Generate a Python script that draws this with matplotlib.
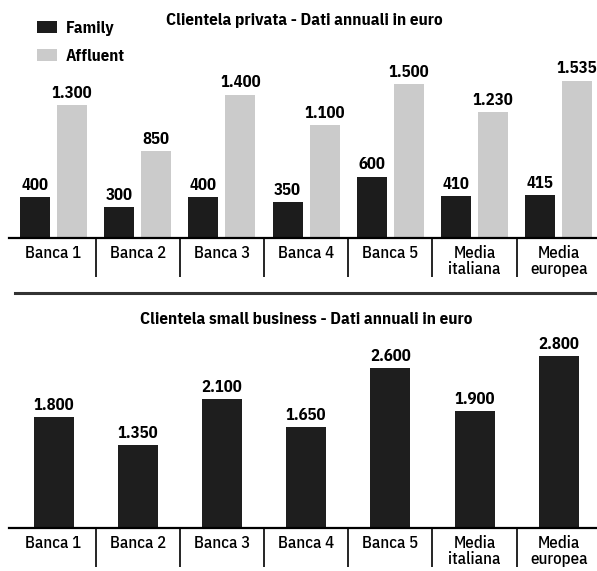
import matplotlib
matplotlib.use("Agg")
import matplotlib.pyplot as plt
from matplotlib.lines import Line2D
import numpy as np

plt.rcParams['font.family'] = ['IBM Plex Sans Condensed', 'DejaVu Sans']

categorie = ["Banca 1", "Banca 2", "Banca 3", "Banca 4", "Banca 5", "Media\nitaliana", "Media\neuropea"]
family = [400, 300, 400, 350, 600, 410, 415]
affluent = [1300, 850, 1400, 1100, 1500, 1230, 1535]
small_business = [1800, 1350, 2100, 1650, 2600, 1900, 2800]

W, H = 597, 571
fig = plt.figure(figsize=(W / 100, H / 100), dpi=100)

x = np.arange(len(categorie))
xlim = (-53.5 / 84.2, (W - 53.5) / 84.2)


def euro(v):
    return f"{v:,}".replace(",", ".")


def base_asse(ax, h_px):
    ax.set_xlim(*xlim)
    for s in ax.spines.values():
        s.set_visible(False)
    ax.set_yticks([])
    ax.set_xticks(x)
    ax.set_xticklabels(categorie, fontsize=12.2, fontweight="medium", linespacing=1.0)
    ax.tick_params(axis="x", length=0, pad=5)
    ax.axhline(0, xmin=9 / W, xmax=1, color="black", lw=1.6, clip_on=False)
    # separatori tra le categorie
    ax.vlines(x[:-1] + 0.5, -39 / h_px, 0, transform=ax.get_xaxis_transform(),
              color="black", lw=1.2, clip_on=False)


# Clientela privata
h1 = 238
ax1 = fig.add_axes([0, (H - 238) / H, 1, h1 / H])
ax1.set_ylim(0, h1 / 0.1025)
w = 30 / 84.2
off = 18.5 / 84.2
b1 = ax1.bar(x - off, family, w, color="#1c1c1c", label="Family")
b2 = ax1.bar(x + off, affluent, w, color="#cbcbcb", label="Affluent")
for b, vals in ((b1, family), (b2, affluent)):
    ax1.bar_label(b, labels=[euro(v) for v in vals], padding=3,
                  fontsize=12, fontweight="bold")
base_asse(ax1, h1)
ax1.legend(loc="upper left", bbox_to_anchor=(37 / W, 1 - 21 / H), bbox_transform=fig.transFigure,
           frameon=False, borderpad=0, borderaxespad=0, handlelength=1.2, handleheight=0.7,
           handletextpad=0.5, labelspacing=0.75, prop={"size": 12.2, "weight": "bold"})

# Clientela small business
h2 = 188
ax2 = fig.add_axes([0, (H - 528) / H, 1, h2 / H])
ax2.set_ylim(0, h2 / 0.0614)
b3 = ax2.bar(x, small_business, 40 / 84.2, color="#1e1e1e")
ax2.bar_label(b3, labels=[euro(v) for v in small_business], padding=3,
              fontsize=12, fontweight="bold")
base_asse(ax2, h2)

fig.text(304.5 / W, 1 - 20 / H, "Clientela privata - Dati annuali in euro",
         ha="center", va="center", fontsize=12.3, fontweight="bold")
fig.text(306 / W, 1 - 319 / H, "Clientela small business - Dati annuali in euro",
         ha="center", va="center", fontsize=12.3, fontweight="bold")

# filetto di separazione
fig.add_artist(Line2D([15 / W, 1], [1 - 293 / H] * 2, transform=fig.transFigure,
                      color="#333333", lw=2.2))

fig.savefig("out.png", dpi=100)
